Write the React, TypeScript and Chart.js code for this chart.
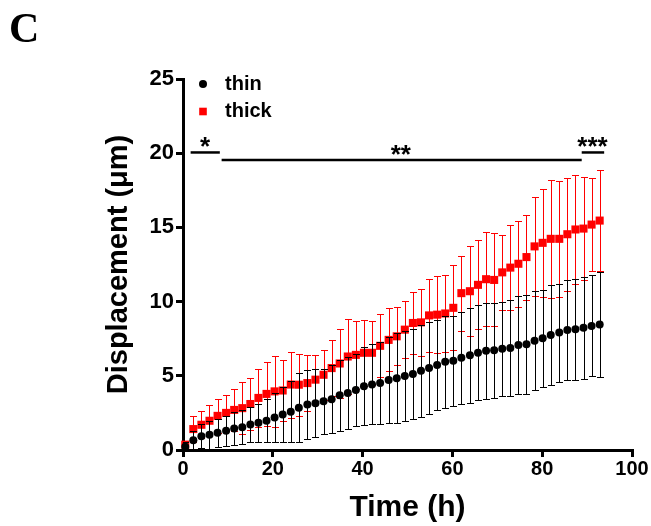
import React, { useEffect, useRef } from 'react';
import { Chart, registerables } from 'chart.js';

Chart.register(...registerables);

// ---- data ----
const times = [
  0.5, 2.3, 4.1, 5.9, 7.7, 9.6, 11.4, 13.2, 15.0, 16.8,
  18.6, 20.4, 22.2, 24.0, 25.8, 27.7, 29.5, 31.3, 33.1, 34.9,
  36.7, 38.5, 40.3, 42.1, 43.9, 45.8, 47.6, 49.4, 51.2, 53.0,
  54.8, 56.6, 58.4, 60.2, 62.0, 63.9, 65.7, 67.5, 69.3, 71.1,
  72.9, 74.7, 76.5, 78.3, 80.1, 81.9, 83.8, 85.6, 87.4, 89.2,
  91.0, 92.8,
];

const thinMean = [
  0.22, 0.65, 0.92, 1.02, 1.17, 1.30, 1.45, 1.54, 1.72, 1.83,
  1.97, 2.19, 2.39, 2.58, 2.84, 3.06, 3.15, 3.28, 3.42, 3.69,
  3.84, 4.04, 4.29, 4.42, 4.51, 4.71, 4.84, 4.98, 5.12, 5.34,
  5.52, 5.72, 5.94, 6.01, 6.21, 6.39, 6.55, 6.68, 6.72, 6.82,
  6.88, 7.08, 7.13, 7.37, 7.53, 7.75, 7.91, 8.09, 8.13, 8.24,
  8.36, 8.45,
];

const thinSD = [
  0.35, 0.65, 0.80, 0.92, 0.95, 1.00, 1.10, 1.14, 1.18, 1.30,
  1.45, 1.68, 1.88, 2.06, 2.33, 2.35, 2.30, 2.21, 2.28, 2.39,
  2.42, 2.43, 2.62, 2.69, 2.78, 2.91, 3.05, 3.01, 3.04, 3.11,
  3.11, 3.02, 3.08, 3.04, 3.08, 3.20, 3.20, 3.22, 3.20, 3.18,
  3.22, 3.30, 3.33, 3.34, 3.26, 3.38, 3.30, 3.35, 3.38, 3.44,
  3.40, 3.52,
];

const thickMean = [
  0.36, 1.41, 1.70, 1.97, 2.30, 2.50, 2.70, 2.82, 3.10, 3.51,
  3.78, 3.95, 4.01, 4.41, 4.40, 4.51, 4.74, 5.07, 5.52, 5.83,
  6.30, 6.41, 6.55, 6.55, 7.02, 7.42, 7.66, 8.11, 8.56, 8.60,
  9.07, 9.12, 9.20, 9.58, 10.57, 10.70, 11.13, 11.51, 11.46, 11.97,
  12.29, 12.55, 13.00, 13.72, 13.96, 14.23, 14.23, 14.54, 14.86, 14.92,
  15.19, 15.46,
];

const thickSD = [
  0.25, 0.85, 0.91, 1.05, 1.16, 1.23, 1.39, 1.74, 1.77, 1.96,
  2.13, 2.39, 2.05, 2.22, 2.10, 1.86, 1.63, 1.70, 1.90, 2.35,
  2.53, 2.28, 2.21, 2.14, 2.12, 2.12, 1.96, 1.90, 2.07, 2.24,
  2.48, 2.61, 2.60, 2.87, 2.52, 3.04, 2.99, 3.17, 3.13, 2.55,
  2.88, 2.89, 2.86, 3.33, 3.65, 3.98, 3.89, 3.82, 3.68, 3.45,
  3.14, 3.38,
];

const seriesLabels = ['thin', 'thick'];
const seriesColors = ['#000000', '#ff0000'];
const xTicks = [0, 20, 40, 60, 80, 100];
const yTicks = [0, 5, 10, 15, 20, 25];

// significance brackets
const sigStart = [1.7, 8.6, 88.8];
const sigEnd = [8.2, 88.8, 93.8];
const sigLevel = [20.05, 19.55, 20.05];
const sigTextX = [4.9, 48.5, 91.2];
const sigText = ['*', '**', '***'];

const panelLabel = 'C';
const xTitle = 'Time (h)';
const yTitle = 'Displacement (\u03bcm)';

const FONT = '"Liberation Sans", Arial, Helvetica, sans-serif';

const sdBySeries = [thinSD, thickSD];

const errorBarPlugin = {
  id: 'errorBars',
  beforeDatasetDraw(chart: any, args: any) {
    const sds = sdBySeries[args.index];
    if (!sds) return;
    const ds = chart.data.datasets[args.index];
    const meta = args.meta;
    const ctx = chart.ctx;
    const yScale = chart.scales.y;
    const area = chart.chartArea;
    ctx.save();
    ctx.beginPath();
    ctx.rect(area.left, 0, area.right - area.left + 20, area.bottom);
    ctx.clip();
    ctx.strokeStyle = seriesColors[args.index];
    ctx.lineWidth = 1;
    meta.data.forEach((pt: any, i: number) => {
      const m = ds.data[i].y;
      const s = sds[i];
      const x = Math.round(pt.x) + 0.5;
      const yTop = Math.round(yScale.getPixelForValue(m + s)) + 0.5;
      const yBot = Math.round(yScale.getPixelForValue(m - s)) + 0.5;
      ctx.beginPath();
      ctx.moveTo(x, yTop);
      ctx.lineTo(x, yBot);
      ctx.moveTo(x - 3.5, yTop);
      ctx.lineTo(x + 3.5, yTop);
      ctx.moveTo(x - 3.5, yBot);
      ctx.lineTo(x + 3.5, yBot);
      ctx.stroke();
    });
    ctx.restore();
  },
};

const decorPlugin = {
  id: 'decor',
  afterDraw(chart: any) {
    const ctx = chart.ctx;
    const xs = chart.scales.x;
    const ys = chart.scales.y;
    const area = chart.chartArea;
    ctx.save();
    // significance lines
    ctx.strokeStyle = '#000';
    ctx.fillStyle = '#000';
    ctx.lineWidth = 2.5;
    for (let i = 0; i < sigText.length; i++) {
      const y = ys.getPixelForValue(sigLevel[i]);
      ctx.beginPath();
      ctx.moveTo(xs.getPixelForValue(sigStart[i]), y);
      ctx.lineTo(xs.getPixelForValue(sigEnd[i]), y);
      ctx.stroke();
      ctx.font = `bold 26px ${FONT}`;
      ctx.textAlign = 'center';
      ctx.textBaseline = 'alphabetic';
      ctx.fillText(sigText[i], xs.getPixelForValue(sigTextX[i]), y + 3);
    }
    // legend
    const lx = area.left + 20;
    const ly0 = area.top + 5;
    const lstep = 27.5;
    ctx.font = `bold 20px ${FONT}`;
    ctx.textAlign = 'left';
    ctx.textBaseline = 'middle';
    for (let i = 0; i < seriesLabels.length; i++) {
      const cy = ly0 + i * lstep;
      ctx.fillStyle = seriesColors[i];
      if (i === 0) {
        ctx.beginPath();
        ctx.arc(lx, cy, 4, 0, Math.PI * 2);
        ctx.fill();
      } else {
        ctx.fillRect(lx - 3.8, cy - 3.8, 7.6, 7.6);
      }
      ctx.fillStyle = '#000';
      ctx.fillText(seriesLabels[i], lx + 22, cy);
    }
    // panel label
    ctx.font = 'bold 42px "Liberation Serif", "Times New Roman", serif';
    ctx.textAlign = 'left';
    ctx.textBaseline = 'alphabetic';
    ctx.fillStyle = '#000';
    ctx.fillText(panelLabel, 9, 42);
    ctx.restore();
  },
};

export default function App() {
  const canvasRef = useRef<HTMLCanvasElement | null>(null);

  useEffect(() => {
    const canvas = canvasRef.current;
    if (!canvas) return;
    const chart = new Chart(canvas, {
      type: 'scatter',
      data: {
        datasets: [
          {
            label: seriesLabels[0],
            data: times.map((t, i) => ({ x: t, y: thinMean[i] })),
            backgroundColor: seriesColors[0],
            borderColor: seriesColors[0],
            pointStyle: 'circle',
            pointRadius: 4,
            pointBorderWidth: 0,
            showLine: false,
            clip: false,
          },
          {
            label: seriesLabels[1],
            data: times.map((t, i) => ({ x: t, y: thickMean[i] })),
            backgroundColor: seriesColors[1],
            borderColor: seriesColors[1],
            pointStyle: 'rect',
            pointRadius: 5.7,
            pointBorderWidth: 0,
            showLine: false,
            clip: false,
          },
        ],
      },
      options: {
        responsive: false,
        animation: false,
        devicePixelRatio: 1,
        layout: { padding: { left: 0, right: 19, top: 79, bottom: 0 } },
        plugins: {
          legend: { display: false },
          tooltip: { enabled: false },
        },
        scales: {
          x: {
            type: 'linear',
            min: 0,
            max: 100,
            afterBuildTicks: (s: any) => {
              s.ticks = xTicks.map((v) => ({ value: v }));
            },
            afterFit: (s: any) => {
              s.height = 76;
            },
            ticks: {
              color: '#000',
              padding: 0,
              maxRotation: 0,
              font: { family: FONT, size: 20, weight: 'bold' },
            },
            grid: {
              display: true,
              drawOnChartArea: false,
              drawTicks: true,
              tickLength: 7,
              tickWidth: 3,
              lineWidth: 3,
              tickColor: '#000',
              color: '#000',
            },
            border: { display: true, color: '#000', width: 3 },
            title: {
              display: true,
              text: xTitle,
              color: '#000',
              font: { family: FONT, size: 30, weight: 'bold' },
              padding: { top: 0, bottom: 0 },
            },
          },
          y: {
            type: 'linear',
            min: 0,
            max: 25,
            afterBuildTicks: (s: any) => {
              s.ticks = yTicks.map((v) => ({ value: v }));
            },
            afterFit: (s: any) => {
              s.width = 183;
            },
            ticks: {
              color: '#000',
              padding: 2,
              font: { family: FONT, size: 22, weight: 'bold' },
            },
            grid: {
              display: true,
              drawOnChartArea: false,
              drawTicks: true,
              tickLength: 7,
              tickWidth: 3,
              lineWidth: 3,
              tickColor: '#000',
              color: '#000',
            },
            border: { display: true, color: '#000', width: 3 },
            title: {
              display: true,
              text: yTitle,
              color: '#000',
              font: { family: FONT, size: 29, weight: 'bold' },
              padding: { top: 102, bottom: 0 },
            },
          },
        },
      },
      plugins: [errorBarPlugin, decorPlugin],
    } as any);
    return () => chart.destroy();
  }, []);

  return (
    <canvas
      ref={canvasRef}
      width={651}
      height={526}
      style={{ position: 'absolute', left: 0, top: 0, width: 651, height: 526 }}
    />
  );
}
